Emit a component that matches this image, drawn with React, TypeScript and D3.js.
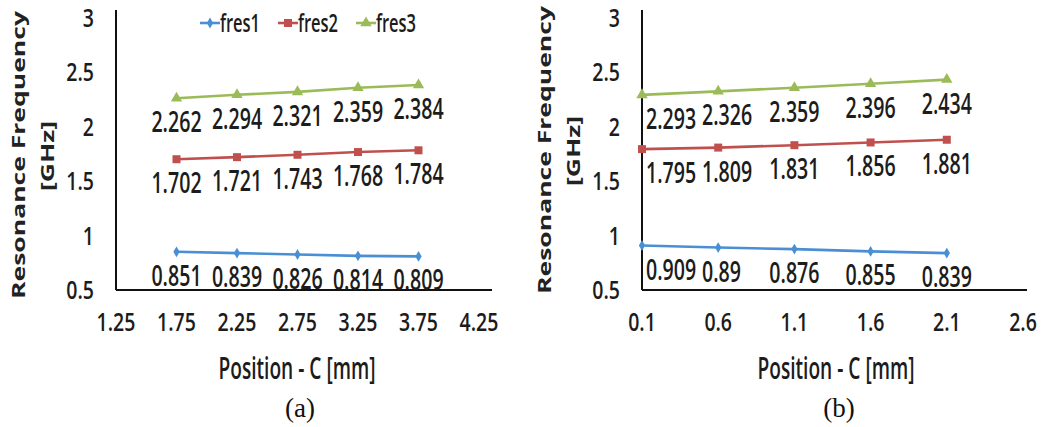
import React from 'react'
import * as d3 from 'd3'

// positions along C (mm) for the two cases
const posA = [1.75, 2.25, 2.75, 3.25, 3.75]
const posB = [0.1, 0.6, 1.1, 1.6, 2.1]

// resonance frequencies in GHz
const fres1A = [0.851, 0.839, 0.826, 0.814, 0.809]
const fres2A = [1.702, 1.721, 1.743, 1.768, 1.784]
const fres3A = [2.262, 2.294, 2.321, 2.359, 2.384]
const fres1B = [0.909, 0.89, 0.876, 0.855, 0.839]
const fres2B = [1.795, 1.809, 1.831, 1.856, 1.881]
const fres3B = [2.293, 2.326, 2.359, 2.396, 2.434]

const xTicksA = [1.25, 1.75, 2.25, 2.75, 3.25, 3.75, 4.25]
const xTicksB = [0.1, 0.6, 1.1, 1.6, 2.1, 2.6]
const yTicks = [0.5, 1, 1.5, 2, 2.5, 3]

const seriesNames = ['fres1', 'fres2', 'fres3']
const COLORS = ['#4a8fd3', '#c0504d', '#9bbb59']
const SYMBOLS = [d3.symbolDiamond, d3.symbolSquare, d3.symbolTriangle]
const SYMBOL_SIZE = [34, 64, 56]

const FONT = '"Open Sans", "Liberation Sans", sans-serif'
const INK = '#1c1c1c'

function Num({ x, y, text, anchor = 'middle', fs = 26, sx = 0.75 }: any) {
  return (
    <text
      transform={`translate(${x},${y}) scale(${sx},1)`}
      textAnchor={anchor}
      fontSize={fs}
      fontWeight={600}
      fontFamily={FONT}
      fill={INK}
    >
      {text}
    </text>
  )
}

// rough width of a number label, used to keep labels apart
function numWidth(s: string, fs: number, sx: number) {
  let w = 0
  for (const ch of s) w += ch === '.' ? 0.267 : 0.572
  return w * fs * sx
}

function Panel({ xs, series, xTicks, xDomain, xRange, axisEnd, titleX, titleY, caption, legend }: any) {
  const x = d3.scaleLinear().domain(xDomain).range(xRange)
  const y = d3.scaleLinear().domain([0.5, 3]).range([290, 18])
  const axisX = xRange[0]
  const line = d3.line<[number, number]>().x((d) => x(d[0])).y((d) => y(d[1]))
  const labelFs = 28
  const labelSx = 0.7

  return (
    <g>
      {/* axes */}
      <line x1={axisX} x2={axisX} y1={10} y2={y(0.5)} stroke="#111" strokeWidth={2} />
      <line x1={axisX} x2={axisEnd} y1={y(0.5)} y2={y(0.5)} stroke="#111" strokeWidth={2} />

      {yTicks.map((t) => (
        <Num key={t} x={axisX - 22} y={y(t) + 9} text={String(t)} anchor="end" />
      ))}
      {xTicks.map((t: number) => (
        <Num key={t} x={x(t)} y={331} text={String(t)} />
      ))}

      {/* series */}
      {series.map((vals: number[], i: number) => {
        const pts = xs.map((p: number, j: number) => [p, vals[j]] as [number, number])
        // labels sit under the points, pushed right if they would hit the axis or the previous label
        let prevRight = axisX + 4
        const labels = pts.map((d) => {
          const s = String(d[1])
          const w = numWidth(s, labelFs, labelSx)
          const cx = Math.max(x(d[0]), prevRight + w / 2)
          prevRight = cx + w / 2 + 6
          return { s, cx, cy: y(d[1]) + 24 + 10 }
        })
        return (
          <g key={i}>
            <path d={line(pts) || ''} fill="none" stroke={COLORS[i]} strokeWidth={2.6} />
            {pts.map((d, j) => (
              <path
                key={j}
                transform={`translate(${x(d[0])},${y(d[1])})`}
                d={d3.symbol().type(SYMBOLS[i]).size(SYMBOL_SIZE[i])() || ''}
                fill={COLORS[i]}
              />
            ))}
            {labels.map((l, j) => (
              <Num key={'l' + j} x={l.cx} y={l.cy} text={l.s} fs={labelFs} sx={labelSx} />
            ))}
          </g>
        )
      })}

      {/* y axis title */}
      <text
        transform={`translate(${axisX - 91},${titleY}) rotate(-90)`}
        textAnchor="middle"
        fontSize={18}
        fontWeight="bold"
        fontFamily={FONT}
        fill="#222"
        textLength={288}
        lengthAdjust="spacingAndGlyphs"
      >
        Resonance Frequency
      </text>
      <text
        transform={`translate(${axisX - 62},${titleY + 1}) rotate(-90)`}
        textAnchor="middle"
        fontSize={18}
        fontWeight="bold"
        fontFamily={FONT}
        fill="#222"
        textLength={70}
        lengthAdjust="spacingAndGlyphs"
      >
        [GHz]
      </text>

      {/* x axis title and caption */}
      <text
        x={titleX}
        y={379}
        textAnchor="middle"
        fontSize={30}
        fontWeight={600}
        fontFamily={FONT}
        fill={INK}
        textLength={157}
        lengthAdjust="spacingAndGlyphs"
      >
        Position - C [mm]
      </text>
      <text x={titleX + 3} y={417} textAnchor="middle" fontSize={27} fontFamily='"Liberation Serif", "Times New Roman", serif' fill="#111">
        {caption}
      </text>

      {legend &&
        seriesNames.map((name, i) => {
          const lx = [200, 278, 356][i]
          return (
            <g key={name}>
              <line x1={lx} x2={lx + 20} y1={23} y2={23} stroke={COLORS[i]} strokeWidth={2.6} />
              <path
                transform={`translate(${lx + 10},23)`}
                d={d3.symbol().type(SYMBOLS[i]).size(SYMBOL_SIZE[i])() || ''}
                fill={COLORS[i]}
              />
              <text
                x={lx + 20}
                y={32}
                fontSize={25}
                fontWeight={600}
                fontFamily={FONT}
                fill={INK}
                textLength={40}
                lengthAdjust="spacingAndGlyphs"
              >
                {name}
              </text>
            </g>
          )
        })}
    </g>
  )
}

export default function App() {
  return (
    <svg
      width={1051}
      height={427}
      style={{ position: 'absolute', left: 0, top: 0, background: '#fff', display: 'block' }}
    >
      <Panel
        xs={posA}
        series={[fres1A, fres2A, fres3A]}
        xTicks={xTicksA}
        xDomain={[1.25, 4.25]}
        xRange={[116, 479]}
        axisEnd={492}
        titleX={297}
        titleY={155}
        caption="(a)"
        legend
      />
      <Panel
        xs={posB}
        series={[fres1B, fres2B, fres3B]}
        xTicks={xTicksB}
        xDomain={[0.1, 2.6]}
        xRange={[642, 1023]}
        axisEnd={1027}
        titleX={836}
        titleY={150}
        caption="(b)"
      />
    </svg>
  )
}
